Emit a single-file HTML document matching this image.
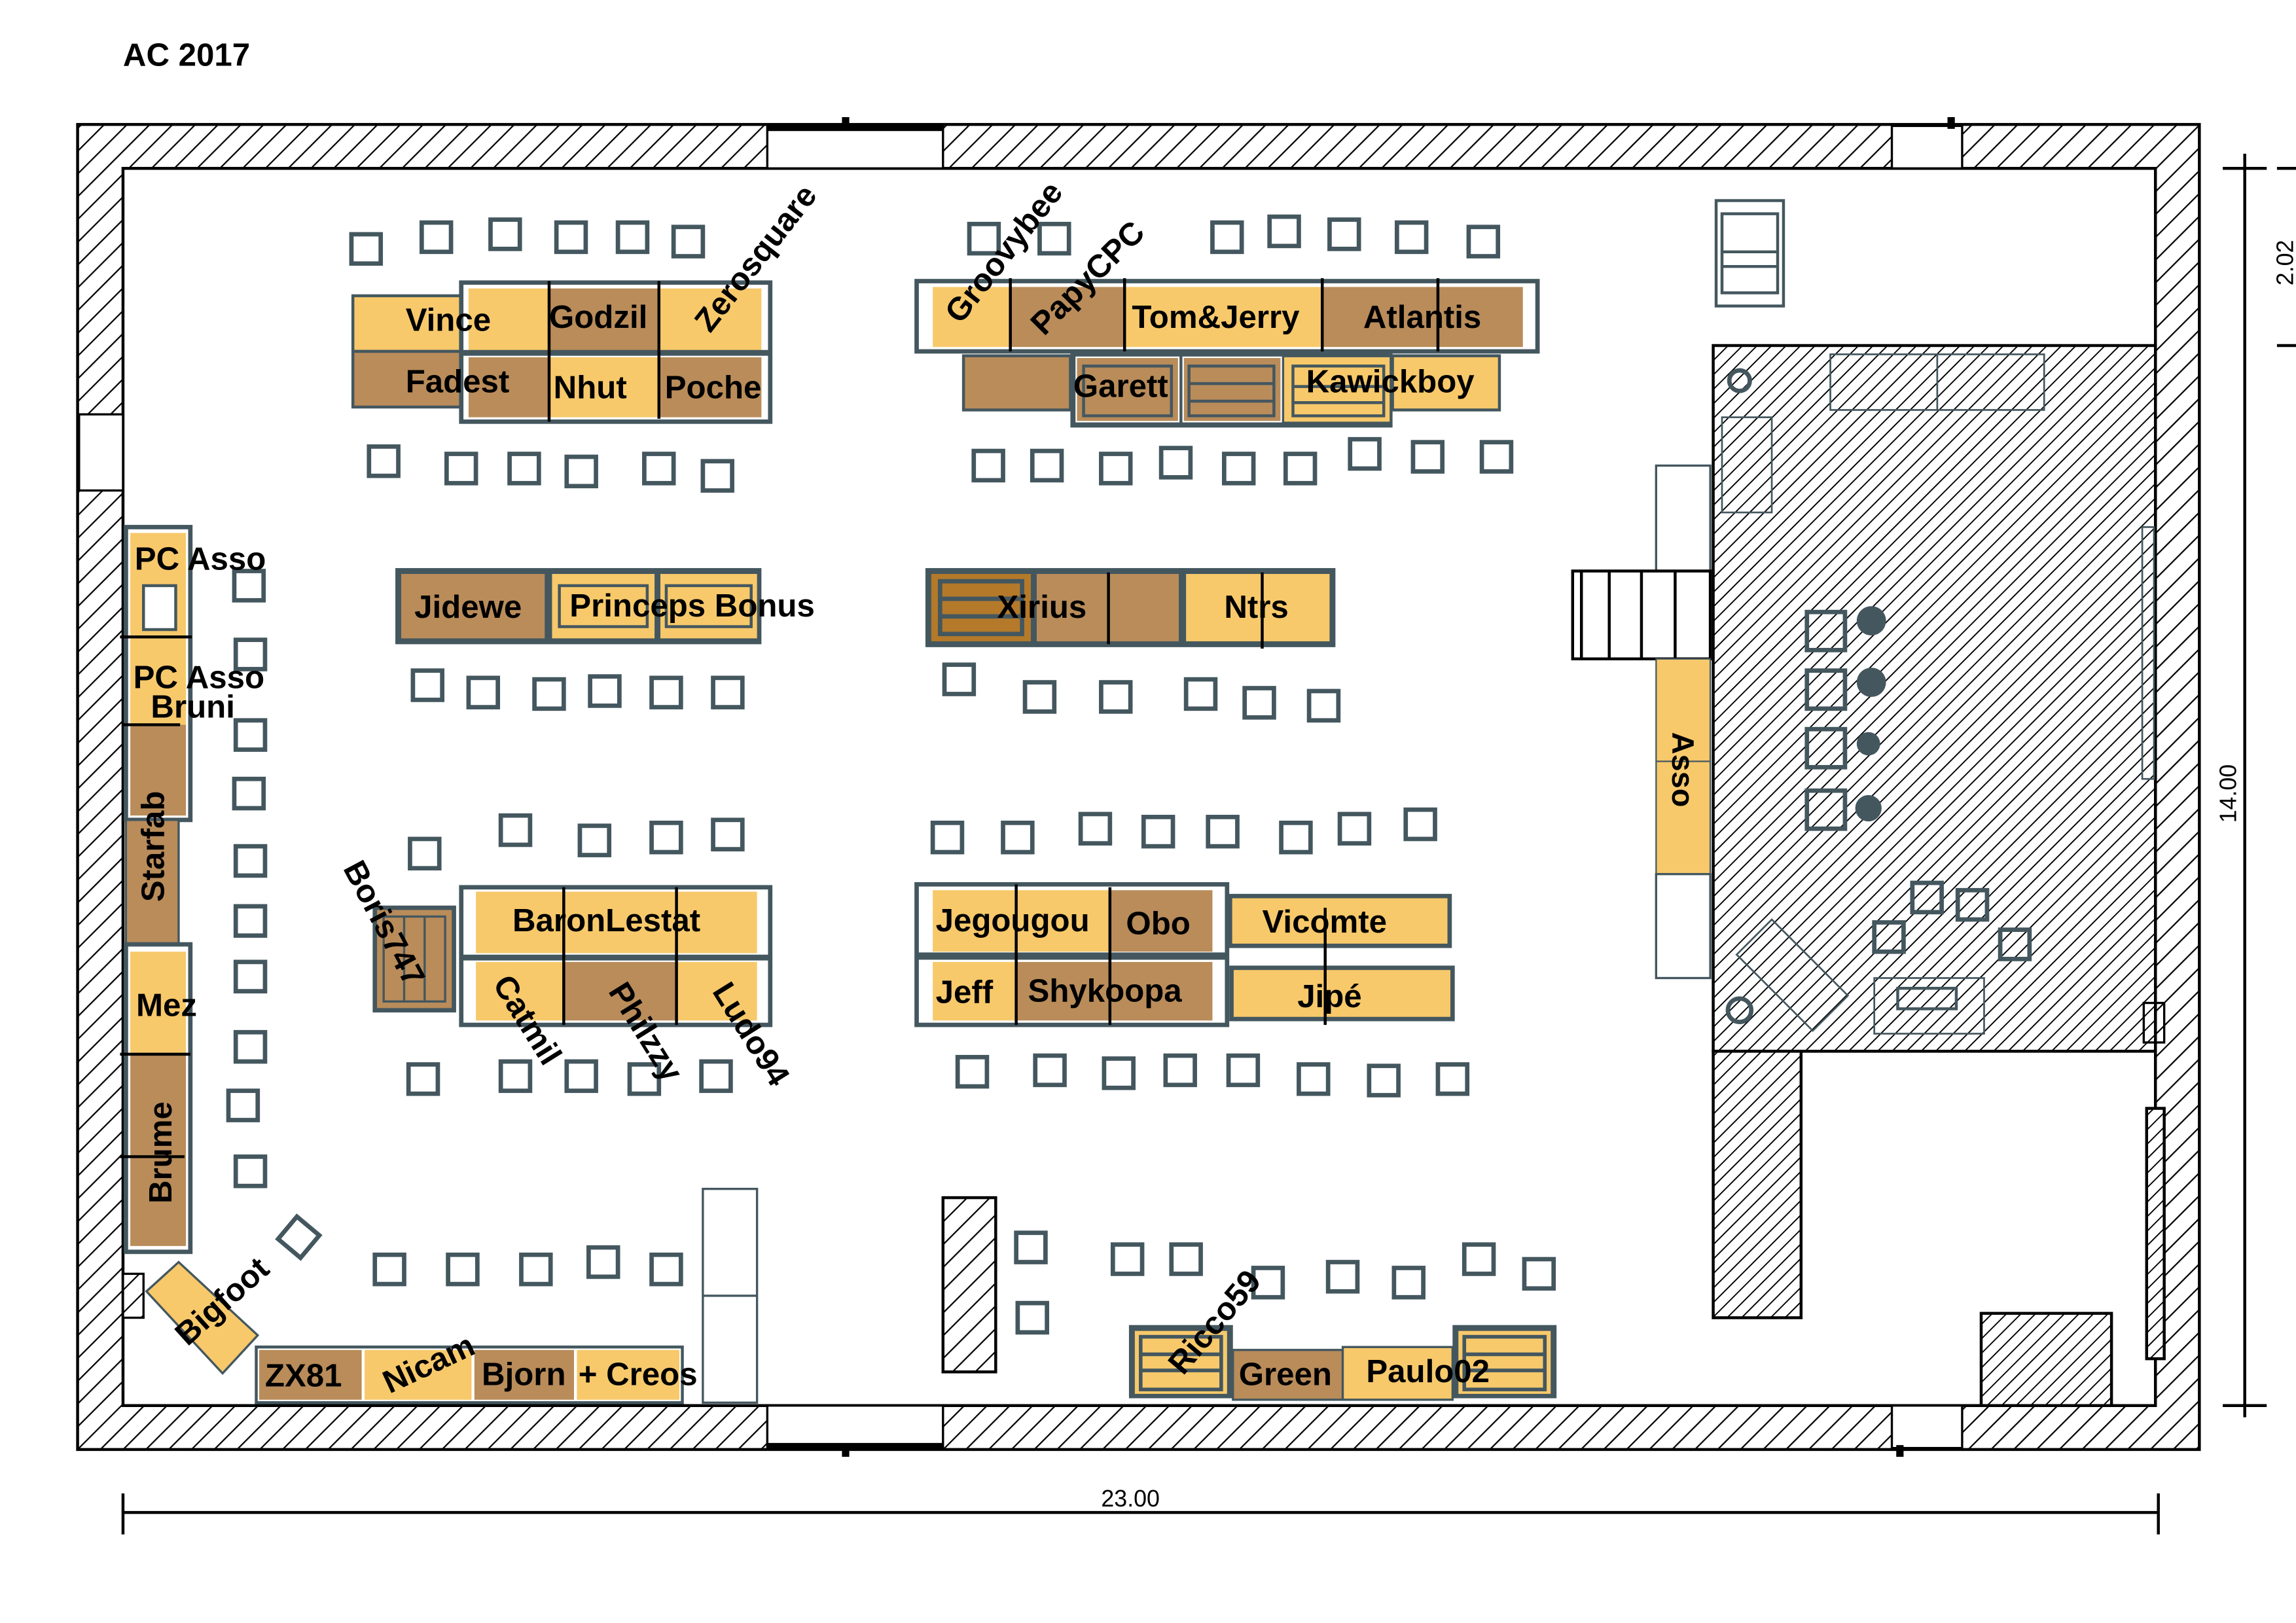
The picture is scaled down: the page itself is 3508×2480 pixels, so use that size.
<!DOCTYPE html>
<html><head><meta charset="utf-8"><style>
html,body{margin:0;padding:0;background:#fff}
svg{display:block}
text{font-family:"Liberation Sans",sans-serif;font-weight:bold;fill:#000}
</style></head><body>
<svg width="3508" height="2480" viewBox="0 0 1568 1108.5" preserveAspectRatio="none" xmlns="http://www.w3.org/2000/svg">
<defs>
<pattern id="hw" patternUnits="userSpaceOnUse" width="11" height="11" patternTransform="rotate(45)">
<rect width="11" height="11" fill="#fff"/><line x1="0" y1="0" x2="0" y2="11" stroke="#000" stroke-width="2"/></pattern>
<pattern id="hf" patternUnits="userSpaceOnUse" width="7" height="7" patternTransform="rotate(45)">
<rect width="7" height="7" fill="#fff"/><line x1="0" y1="0" x2="0" y2="7" stroke="#000" stroke-width="1.7"/></pattern>
<g id="c"><rect x="-10" y="-10" width="20" height="20" fill="none" stroke="#44575f" stroke-width="3"/></g>
</defs>
<rect width="1568" height="1108.5" fill="#fff"/>
<text x="84" y="45" font-size="22">AC 2017</text>

<rect x="53" y="85" width="1449" height="905" fill="url(#hw)" stroke="#000" stroke-width="2"/>
<rect x="84" y="115" width="1388" height="845" fill="#fff" stroke="#000" stroke-width="2"/>
<rect x="524" y="86" width="120" height="29" fill="#fff" stroke="#000" stroke-width="1.5"/>
<rect x="1292" y="86" width="48" height="29" fill="#fff" stroke="#000" stroke-width="1.5"/>
<rect x="524" y="960" width="120" height="29" fill="#fff" stroke="#000" stroke-width="1.5"/>
<rect x="1292" y="960" width="48" height="29" fill="#fff" stroke="#000" stroke-width="1.5"/>
<rect x="54" y="283" width="30" height="52" fill="#fff" stroke="#000" stroke-width="1.5"/>
<line x1="524" y1="88" x2="644" y2="88" stroke="#000" stroke-width="3"/>
<line x1="524" y1="987" x2="644" y2="987" stroke="#000" stroke-width="3"/>
<rect x="575" y="80" width="5" height="8" fill="#000"/><rect x="1330" y="80" width="5" height="8" fill="#000"/>
<rect x="575" y="987" width="5" height="8" fill="#000"/><rect x="1295" y="987" width="5" height="8" fill="#000"/>

<line x1="84" y1="1033" x2="1474" y2="1033" stroke="#000" stroke-width="2"/>
<line x1="84" y1="1020" x2="84" y2="1048" stroke="#000" stroke-width="2"/>
<line x1="1474" y1="1020" x2="1474" y2="1048" stroke="#000" stroke-width="2"/>
<text x="752" y="1029" font-size="16" style="font-weight:normal">23.00</text>
<line x1="1533" y1="105" x2="1533" y2="968" stroke="#000" stroke-width="2"/>
<line x1="1518" y1="115" x2="1548" y2="115" stroke="#000" stroke-width="2"/>
<line x1="1518" y1="960" x2="1548" y2="960" stroke="#000" stroke-width="2"/>
<line x1="1555" y1="115" x2="1568" y2="115" stroke="#000" stroke-width="2"/>
<line x1="1555" y1="236" x2="1568" y2="236" stroke="#000" stroke-width="2"/>
<text transform="translate(1566,195) rotate(-90)" font-size="16" style="font-weight:normal">2.02</text>
<text transform="translate(1527,562) rotate(-90)" font-size="16" style="font-weight:normal">14.00</text>

<rect x="1170" y="236" width="302" height="482" fill="url(#hf)" stroke="#000" stroke-width="2"/>
<rect x="1170" y="718" width="60" height="182" fill="url(#hf)" stroke="#000" stroke-width="2"/>
<rect x="1353" y="897" width="89" height="63" fill="url(#hf)" stroke="#000" stroke-width="2"/>
<rect x="1466" y="757" width="12" height="171" fill="url(#hf)" stroke="#000" stroke-width="2"/>
<rect x="1464" y="685" width="14" height="27" fill="none" stroke="#000" stroke-width="1.5"/>
<rect x="644" y="818" width="36" height="119" fill="url(#hw)" stroke="#000" stroke-width="2"/>
<rect x="84" y="870" width="14" height="30" fill="url(#hw)" stroke="#000" stroke-width="1.5"/>
<g fill="none" stroke="#44575f" stroke-width="1.2">
<rect x="1250" y="242" width="146" height="38"/><line x1="1323" y1="242" x2="1323" y2="280"/>
<rect x="1176" y="285" width="34" height="65"/>
<rect x="1463" y="360" width="8" height="172"/>
<rect x="1280" y="668" width="75" height="38"/><rect x="1296" y="675" width="40" height="14" stroke-width="2"/>
<polygon points="1210,628 1262,680 1238,704 1186,652"/>
</g>
<g fill="none" stroke="#44575f" stroke-width="3">
<rect x="1234" y="418" width="26" height="26"/><rect x="1234" y="458" width="26" height="26"/>
<rect x="1234" y="498" width="26" height="26"/><rect x="1234" y="540" width="26" height="26"/>
<rect x="1306" y="603" width="20" height="20"/><rect x="1337" y="608" width="20" height="20"/>
<rect x="1280" y="630" width="20" height="20"/><rect x="1366" y="635" width="20" height="20"/>
<circle cx="1188" cy="260" r="7"/><circle cx="1188" cy="690" r="8"/>
</g>
<g fill="#44575f">
<circle cx="1278" cy="424" r="10"/><circle cx="1278" cy="466" r="10"/><circle cx="1276" cy="508" r="8"/><circle cx="1276" cy="552" r="9"/>
</g>
<rect x="1172" y="137" width="46" height="72" fill="#fff" stroke="#44575f" stroke-width="2"/>
<rect x="1176" y="146" width="38" height="54" fill="none" stroke="#44575f" stroke-width="2"/>
<line x1="1176" y1="172" x2="1214" y2="172" stroke="#44575f" stroke-width="2"/><line x1="1176" y1="182" x2="1214" y2="182" stroke="#44575f" stroke-width="2"/>

<rect x="1131" y="318" width="37" height="72" fill="#fff" stroke="#44575f" stroke-width="1.5"/>
<rect x="1074" y="390" width="94" height="60" fill="#fff" stroke="#000" stroke-width="2"/>
<g stroke="#000" stroke-width="2"><line x1="1080" y1="390" x2="1080" y2="450"/><line x1="1099" y1="390" x2="1099" y2="450"/><line x1="1121" y1="390" x2="1121" y2="450"/><line x1="1144" y1="390" x2="1144" y2="450"/></g>
<rect x="1131" y="450" width="37" height="147" fill="#f7c96b" stroke="#44575f" stroke-width="1"/>
<line x1="1131" y1="520" x2="1168" y2="520" stroke="#44575f" stroke-width="1"/>
<rect x="1131" y="597" width="37" height="71" fill="#fff" stroke="#44575f" stroke-width="1.5"/>
<text transform="translate(1142,500) rotate(90)" font-size="21">Asso</text>

<g>
<use href="#c" x="250" y="170"/><use href="#c" x="298" y="162"/><use href="#c" x="345" y="160"/><use href="#c" x="390" y="162"/><use href="#c" x="432" y="162"/><use href="#c" x="470" y="165"/>
<use href="#c" x="672" y="163"/><use href="#c" x="720" y="163"/><use href="#c" x="838" y="162"/><use href="#c" x="877" y="158"/><use href="#c" x="918" y="160"/><use href="#c" x="964" y="162"/><use href="#c" x="1013" y="165"/>
<use href="#c" x="262" y="315"/><use href="#c" x="315" y="320"/><use href="#c" x="358" y="320"/><use href="#c" x="397" y="322"/><use href="#c" x="450" y="320"/><use href="#c" x="490" y="325"/>
<use href="#c" x="675" y="318"/><use href="#c" x="715" y="318"/><use href="#c" x="762" y="320"/><use href="#c" x="803" y="316"/><use href="#c" x="846" y="320"/><use href="#c" x="888" y="320"/><use href="#c" x="932" y="310"/><use href="#c" x="975" y="312"/><use href="#c" x="1022" y="312"/>
<use href="#c" x="292" y="468"/><use href="#c" x="330" y="473"/><use href="#c" x="375" y="474"/><use href="#c" x="413" y="472"/><use href="#c" x="455" y="473"/><use href="#c" x="497" y="473"/>
<use href="#c" x="655" y="464"/><use href="#c" x="710" y="476"/><use href="#c" x="762" y="476"/><use href="#c" x="820" y="474"/><use href="#c" x="860" y="480"/><use href="#c" x="904" y="482"/>
<use href="#c" x="290" y="583"/><use href="#c" x="352" y="567"/><use href="#c" x="406" y="574"/><use href="#c" x="455" y="572"/><use href="#c" x="497" y="570"/>
<use href="#c" x="647" y="572"/><use href="#c" x="695" y="572"/><use href="#c" x="748" y="566"/><use href="#c" x="791" y="568"/><use href="#c" x="835" y="568"/><use href="#c" x="885" y="572"/><use href="#c" x="925" y="566"/><use href="#c" x="970" y="563"/>
<use href="#c" x="289" y="737"/><use href="#c" x="352" y="735"/><use href="#c" x="397" y="735"/><use href="#c" x="440" y="737"/><use href="#c" x="489" y="735"/>
<use href="#c" x="664" y="732"/><use href="#c" x="717" y="731"/><use href="#c" x="764" y="733"/><use href="#c" x="806" y="731"/><use href="#c" x="849" y="731"/><use href="#c" x="897" y="737"/><use href="#c" x="945" y="738"/><use href="#c" x="992" y="737"/>
<use href="#c" x="170" y="400"/><use href="#c" x="171" y="447"/><use href="#c" x="171" y="502"/><use href="#c" x="170" y="542"/><use href="#c" x="171" y="588"/><use href="#c" x="171" y="629"/><use href="#c" x="171" y="667"/><use href="#c" x="171" y="715"/><use href="#c" x="166" y="755"/><use href="#c" x="171" y="800"/>
<use href="#c" x="266" y="867"/><use href="#c" x="316" y="867"/><use href="#c" x="366" y="867"/><use href="#c" x="412" y="862"/><use href="#c" x="455" y="867"/>
<use href="#c" x="704" y="852"/><use href="#c" x="705" y="900"/><use href="#c" x="770" y="860"/><use href="#c" x="810" y="860"/><use href="#c" x="866" y="876"/><use href="#c" x="917" y="872"/><use href="#c" x="962" y="876"/><use href="#c" x="1010" y="860"/><use href="#c" x="1051" y="870"/>
<g transform="translate(204,845) rotate(40)"><use href="#c"/></g>
</g>

<rect x="241" y="202" width="74" height="38" fill="#f7c96b" stroke="#44575f" stroke-width="2"/>
<rect x="241" y="240" width="74" height="38" fill="#b98c5a" stroke="#44575f" stroke-width="2"/>
<rect x="315" y="193" width="211" height="95" fill="#fff" stroke="#44575f" stroke-width="3"/>
<rect x="320" y="197" width="55" height="43" fill="#f7c96b"/><rect x="375" y="197" width="75" height="43" fill="#b98c5a"/><rect x="450" y="197" width="70" height="43" fill="#f7c96b"/>
<rect x="320" y="244" width="55" height="41" fill="#b98c5a"/><rect x="375" y="244" width="75" height="41" fill="#f7c96b"/><rect x="450" y="244" width="70" height="41" fill="#b98c5a"/>
<line x1="315" y1="241" x2="526" y2="241" stroke="#44575f" stroke-width="4"/>
<line x1="375" y1="192" x2="375" y2="288" stroke="#000" stroke-width="2"/><line x1="450" y1="192" x2="450" y2="286" stroke="#000" stroke-width="2"/>
<text x="277" y="226" font-size="22">Vince</text><text x="375" y="224" font-size="22">Godzil</text>
<text x="277" y="268" font-size="22">Fadest</text><text x="378" y="272" font-size="22">Nhut</text><text x="454" y="272" font-size="22">Poche</text>
<text transform="translate(485,228) rotate(-52)" font-size="22">Zerosquare</text>

<rect x="626" y="192" width="424" height="48" fill="#fff" stroke="#44575f" stroke-width="3"/>
<rect x="637" y="196" width="53" height="41" fill="#f7c96b"/><rect x="690" y="196" width="78" height="41" fill="#b98c5a"/><rect x="768" y="196" width="135" height="41" fill="#f7c96b"/><rect x="903" y="196" width="137" height="41" fill="#b98c5a"/>
<g stroke="#000" stroke-width="2"><line x1="690" y1="190" x2="690" y2="240"/><line x1="768" y1="190" x2="768" y2="240"/><line x1="903" y1="190" x2="903" y2="240"/><line x1="982" y1="190" x2="982" y2="240"/></g>
<rect x="658" y="243" width="73" height="37" fill="#b98c5a" stroke="#44575f" stroke-width="2"/>
<rect x="731" y="240" width="220" height="52" fill="#44575f"/>
<rect x="735" y="244" width="70" height="44" fill="#b98c5a" stroke="#fff" stroke-width="1"/>
<rect x="808" y="244" width="67" height="44" fill="#b98c5a" stroke="#fff" stroke-width="1"/>
<rect x="877" y="244" width="72" height="44" fill="#f7c96b"/>
<g fill="none" stroke="#44575f" stroke-width="2"><rect x="740" y="250" width="60" height="34"/><rect x="812" y="250" width="58" height="34"/><rect x="883" y="250" width="62" height="34"/>
<line x1="812" y1="262" x2="870" y2="262"/><line x1="812" y1="274" x2="870" y2="274"/><line x1="883" y1="264" x2="945" y2="264"/><line x1="883" y1="275" x2="945" y2="275"/></g>
<rect x="951" y="243" width="73" height="37" fill="#f7c96b" stroke="#44575f" stroke-width="2"/>
<text x="773" y="224" font-size="22">Tom&amp;Jerry</text><text x="931" y="224" font-size="22">Atlantis</text>
<text x="733" y="271" font-size="22">Garett</text><text x="892" y="268" font-size="22">Kawickboy</text>
<text transform="translate(656,222) rotate(-52)" font-size="22">Groovybee</text>
<text transform="translate(713,230) rotate(-45)" font-size="22">PapyCPC</text>

<rect x="270" y="388" width="250" height="52" fill="#44575f"/>
<rect x="274" y="392" width="98" height="44" fill="#b98c5a"/>
<rect x="377" y="392" width="70" height="44" fill="#f7c96b"/><rect x="451" y="392" width="66" height="44" fill="#f7c96b"/>
<g fill="none" stroke="#44575f" stroke-width="2"><rect x="382" y="400" width="60" height="28"/><rect x="455" y="400" width="58" height="28"/></g>
<text x="283" y="422" font-size="22">Jidewe</text><text x="389" y="421" font-size="22">Princeps Bonus</text>

<rect x="632" y="388" width="280" height="54" fill="#44575f"/>
<rect x="636" y="392" width="68" height="46" fill="#b47a2a"/>
<g fill="none" stroke="#44575f" stroke-width="3"><rect x="642" y="397" width="56" height="36"/><line x1="642" y1="409" x2="698" y2="409"/><line x1="642" y1="421" x2="698" y2="421"/></g>
<rect x="708" y="392" width="97" height="46" fill="#b98c5a"/><rect x="810" y="392" width="98" height="46" fill="#f7c96b"/>
<line x1="757" y1="391" x2="757" y2="440" stroke="#000" stroke-width="2"/><line x1="862" y1="391" x2="862" y2="443" stroke="#000" stroke-width="2"/>
<text x="681" y="422" font-size="22">Xirius</text><text x="836" y="422" font-size="22">Ntrs</text>

<rect x="86" y="360" width="44" height="200" fill="#fff" stroke="#44575f" stroke-width="3"/>
<rect x="89" y="364" width="38" height="131" fill="#f7c96b"/>
<rect x="89" y="495" width="38" height="62" fill="#b98c5a"/>
<rect x="98" y="400" width="22" height="30" fill="#fff" stroke="#44575f" stroke-width="2"/>
<rect x="86" y="560" width="36" height="85" fill="#b98c5a" stroke="#44575f" stroke-width="1.5"/>
<rect x="86" y="645" width="44" height="210" fill="#fff" stroke="#44575f" stroke-width="3"/>
<rect x="89" y="650" width="38" height="70" fill="#f7c96b"/><rect x="89" y="720" width="38" height="131" fill="#b98c5a"/>
<g stroke="#000" stroke-width="2"><line x1="82" y1="435" x2="131" y2="435"/><line x1="84" y1="495" x2="123" y2="495"/><line x1="82" y1="720" x2="130" y2="720"/><line x1="82" y1="790" x2="126" y2="790"/></g>
<text x="92" y="389" font-size="22">PC Asso</text>
<text x="91" y="470" font-size="22">PC Asso</text><text x="103" y="490" font-size="22">Bruni</text>
<text x="93" y="694" font-size="22">Mez</text>
<text transform="translate(112,616) rotate(-90)" font-size="22">Starfab</text>
<text transform="translate(117,822) rotate(-90)" font-size="22">Brume</text>

<polygon points="100,882 122,862 176,912 152,938" fill="#f7c96b" stroke="#44575f" stroke-width="1.5"/>
<text transform="translate(128,920) rotate(-42)" font-size="22">Bigfoot</text>
<rect x="175" y="920" width="291" height="38" fill="#fff" stroke="#44575f" stroke-width="2"/>
<rect x="177" y="922" width="70" height="34" fill="#b98c5a"/><rect x="249" y="922" width="73" height="34" fill="#f7c96b"/><rect x="324" y="922" width="68" height="34" fill="#b98c5a"/><rect x="394" y="922" width="70" height="34" fill="#f7c96b"/>
<text x="181" y="947" font-size="22">ZX81</text><text x="329" y="946" font-size="22">Bjorn</text><text x="395" y="946" font-size="22">+ Creos</text>
<text transform="translate(266,952) rotate(-25)" font-size="22">Nicam</text>
<rect x="480" y="812" width="37" height="146" fill="#fff" stroke="#44575f" stroke-width="1.5"/>
<line x1="480" y1="885" x2="517" y2="885" stroke="#44575f" stroke-width="1.5"/>

<rect x="315" y="606" width="211" height="94" fill="#fff" stroke="#44575f" stroke-width="3"/>
<rect x="325" y="609" width="192" height="42" fill="#f7c96b"/>
<rect x="325" y="657" width="60" height="40" fill="#f7c96b"/><rect x="385" y="657" width="77" height="40" fill="#b98c5a"/><rect x="462" y="657" width="55" height="40" fill="#f7c96b"/>
<line x1="315" y1="654" x2="526" y2="654" stroke="#44575f" stroke-width="4"/>
<line x1="385" y1="606" x2="385" y2="700" stroke="#000" stroke-width="2"/><line x1="462" y1="606" x2="462" y2="700" stroke="#000" stroke-width="2"/>
<text x="350" y="636" font-size="22">BaronLestat</text>
<text transform="translate(336,672) rotate(58)" font-size="22">Catmil</text>
<text transform="translate(415,677) rotate(58)" font-size="22">Philzzy</text>
<text transform="translate(486,677) rotate(58)" font-size="22">Ludo94</text>
<rect x="256" y="620" width="54" height="70" fill="#b98c5a" stroke="#44575f" stroke-width="3"/>
<g fill="none" stroke="#44575f" stroke-width="1.5"><rect x="262" y="626" width="42" height="58"/><line x1="276" y1="626" x2="276" y2="684"/><line x1="290" y1="626" x2="290" y2="684"/></g>
<text transform="translate(234,593) rotate(62)" font-size="22">Boris747</text>

<rect x="626" y="604" width="212" height="96" fill="#fff" stroke="#44575f" stroke-width="3"/>
<rect x="637" y="608" width="121" height="42" fill="#f7c96b"/><rect x="758" y="608" width="70" height="42" fill="#b98c5a"/>
<rect x="637" y="657" width="57" height="40" fill="#f7c96b"/><rect x="694" y="657" width="134" height="40" fill="#b98c5a"/>
<line x1="626" y1="653" x2="838" y2="653" stroke="#44575f" stroke-width="5"/>
<line x1="694" y1="604" x2="694" y2="700" stroke="#000" stroke-width="2"/><line x1="758" y1="606" x2="758" y2="700" stroke="#000" stroke-width="2"/>
<text x="639" y="636" font-size="22">Jegougou</text><text x="769" y="638" font-size="22">Obo</text>
<text x="639" y="685" font-size="22">Jeff</text><text x="702" y="684" font-size="22">Shykoopa</text>
<rect x="840" y="612" width="150" height="34" fill="#f7c96b" stroke="#44575f" stroke-width="3"/>
<rect x="841" y="661" width="151" height="35" fill="#f7c96b" stroke="#44575f" stroke-width="3"/>
<line x1="905" y1="620" x2="905" y2="700" stroke="#000" stroke-width="2"/>
<text x="862" y="637" font-size="22">Vicomte</text><text x="886" y="688" font-size="22">Jipé</text>

<rect x="771" y="905" width="71" height="50" fill="#44575f"/><rect x="775" y="909" width="63" height="43" fill="#f7c96b"/>
<g fill="none" stroke="#44575f" stroke-width="2.5"><rect x="779" y="913" width="55" height="36"/><line x1="779" y1="925" x2="834" y2="925"/><line x1="779" y1="936" x2="834" y2="936"/></g>
<rect x="842" y="922" width="75" height="34" fill="#b98c5a" stroke="#44575f" stroke-width="1.5"/>
<rect x="917" y="920" width="75" height="36" fill="#f7c96b" stroke="#44575f" stroke-width="1.5"/>
<rect x="992" y="905" width="71" height="50" fill="#44575f"/><rect x="996" y="909" width="63" height="43" fill="#f7c96b"/>
<g fill="none" stroke="#44575f" stroke-width="2.5"><rect x="1000" y="913" width="55" height="36"/><line x1="1000" y1="925" x2="1055" y2="925"/><line x1="1000" y1="936" x2="1055" y2="936"/></g>
<text x="846" y="946" font-size="22">Green</text><text x="933" y="944" font-size="22">Paulo02</text>
<text transform="translate(808,940) rotate(-50)" font-size="22">Ricco59</text>
</svg>
</body></html>
